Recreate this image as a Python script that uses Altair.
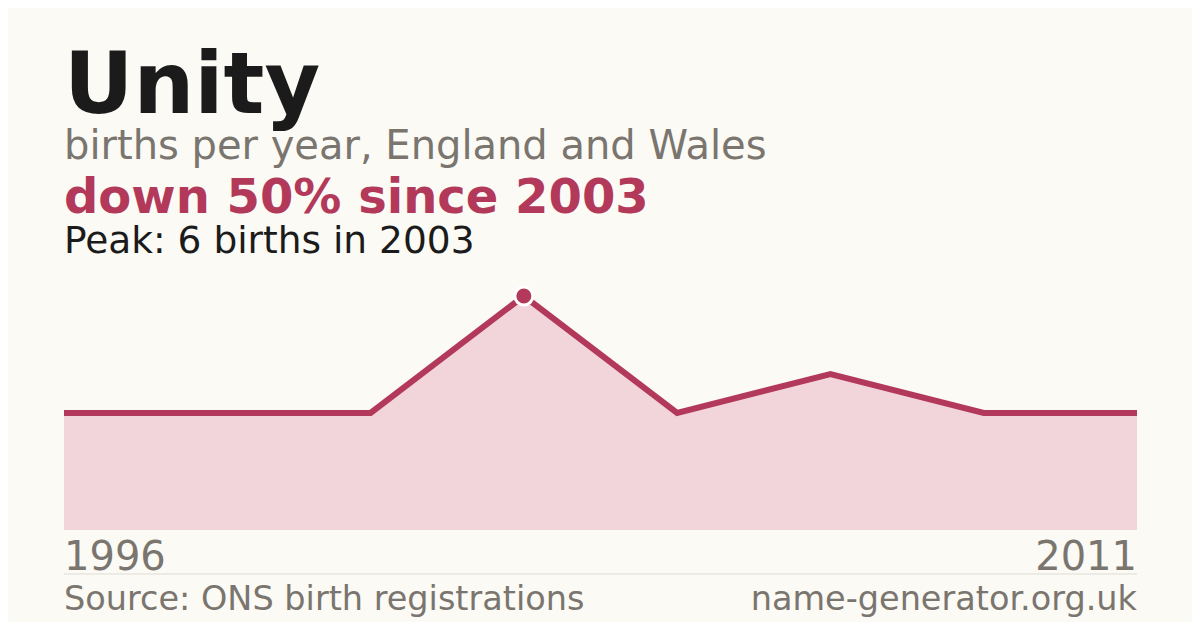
import altair as alt
import pandas as pd

# ---- data ----
years = [1996, 2000, 2002, 2003, 2005, 2007, 2009, 2011]
births = [3, 3, 3, 6, 3, 4, 3, 3]

title_text = "Unity"
subtitle_text = "births per year, England and Wales"
change_text = "down 50% since 2003"
peak_text = "Peak: 6 births in 2003"
source_text = "Source: ONS birth registrations"
site_text = "name-generator.org.uk"

BG = "#fbfaf5"
CRIMSON = "#b3395a"
FILL = "#f2d5db"
GRAY = "#7a756e"
INK = "#1b1b1b"
FONT = "DejaVu Sans"

df = pd.DataFrame({"year": [str(y) for y in years], "births": births})
peak = max(births)

W, H = 1073, 234

x_enc = alt.X("year:O", scale=alt.Scale(type="point", padding=0), axis=None,
              sort=[str(y) for y in years])
y_enc = alt.Y("births:Q", scale=alt.Scale(domain=[0, peak], nice=False, zero=True), axis=None)

base = alt.Chart(df)

area = base.mark_area(color=FILL).encode(x=x_enc, y=y_enc)
line = base.mark_line(color=CRIMSON, strokeWidth=6).encode(x=x_enc, y=y_enc)
pt = base.transform_filter(alt.datum.births == peak).mark_point(
    filled=True, shape="circle", size=324, color=CRIMSON,
    stroke="white", strokeWidth=3, opacity=1, strokeOpacity=1, fillOpacity=1
).encode(x=x_enc, y=y_enc)


def label(text, y, size, color, weight="normal", align="left", x=0):
    d = pd.DataFrame({"t": [text]})
    return alt.Chart(d).mark_text(
        align=align, baseline="alphabetic", font=FONT, fontSize=size,
        fontWeight=weight, color=color
    ).encode(x=alt.value(x), y=alt.value(y), text="t:N")


t1 = label(title_text, -183, 85.5, INK, "bold")
t2 = label(subtitle_text, -137, 40, GRAY)
t3 = label(change_text, -83, 48, CRIMSON, "bold")
t4 = label(peak_text, -43, 37.5, INK)

ends = pd.DataFrame({"year": [str(years[0]), str(years[-1])]})
yl = alt.Chart(ends.iloc[:1]).mark_text(
    align="left", baseline="alphabetic", font=FONT, fontSize=40, color=GRAY
).encode(x=x_enc, y=alt.value(274), text="year:N")
yr = alt.Chart(ends.iloc[1:]).mark_text(
    align="right", baseline="alphabetic", font=FONT, fontSize=40, color=GRAY
).encode(x=x_enc, y=alt.value(274), text="year:N")

sep = alt.Chart(pd.DataFrame({"a": [0]})).mark_rule(color="#dedbd3", strokeWidth=1).encode(
    x=alt.value(0), x2=alt.value(W), y=alt.value(278)
)

s1 = label(source_text, 314, 33.5, GRAY)
s2 = label(site_text, 314, 33.5, GRAY, align="right", x=W)

chart = alt.layer(area, line, pt, t1, t2, t3, t4, yl, yr, sep, s1, s2).properties(
    width=W, height=H,
    autosize=alt.AutoSizeParams(type="none"),
    padding={"left": 56, "top": 288, "right": 55, "bottom": 92},
    background=BG,
).configure_view(stroke=None)

chart.save("out.html", embed_options={"renderer": "svg", "actions": False})
